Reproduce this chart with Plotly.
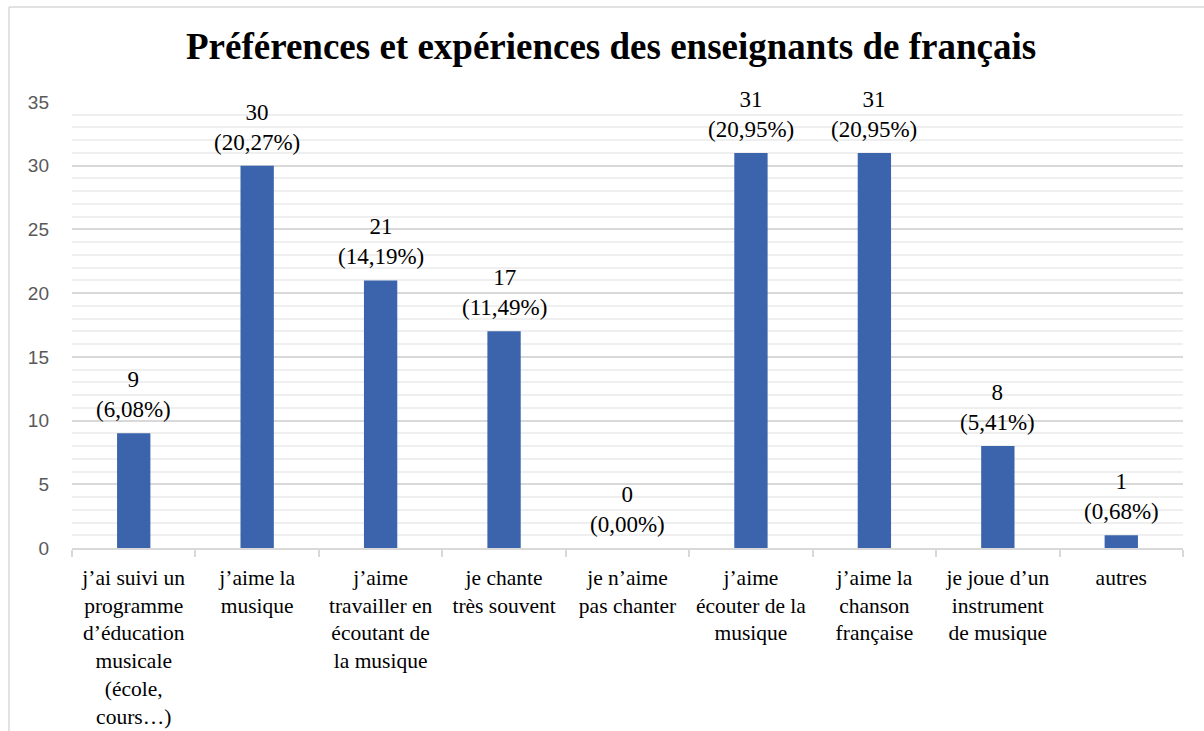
import plotly.graph_objects as go

# chart data
categories = [
    "j’ai suivi un<br>programme<br>d’éducation<br>musicale<br>(école,<br>cours…)",
    "j’aime la<br>musique",
    "j’aime<br>travailler en<br>écoutant de<br>la musique",
    "je chante<br>très souvent",
    "je n’aime<br>pas chanter",
    "j’aime<br>écouter de la<br>musique",
    "j’aime la<br>chanson<br>française",
    "je joue d’un<br>instrument<br>de musique",
    "autres",
]
counts = [9, 30, 21, 17, 0, 31, 31, 8, 1]
shares = ["6,08%", "20,27%", "14,19%", "11,49%", "0,00%", "20,95%", "20,95%", "5,41%", "0,68%"]
y_ticks = [0, 5, 10, 15, 20, 25, 30, 35]

BAR_BLUE = "#3B64AD"
SERIF = "Liberation Serif"
GRID = "#D9D9D9"

fig = go.Figure(
    go.Bar(
        x=categories,
        y=counts,
        marker={"color": BAR_BLUE},
        hovertemplate="%{y}<extra></extra>",
    )
)

# value labels above the bars
for cat, n, share in zip(categories, counts, shares):
    fig.add_annotation(
        x=cat,
        y=n,
        text=f"{n}<br>({share})",
        showarrow=False,
        yanchor="bottom",
        yshift=9,
        font={"family": SERIF, "size": 23, "color": "#000000"},
    )

fig.update_layout(
    width=1204,
    height=731,
    template="none",
    paper_bgcolor="white",
    plot_bgcolor="white",
    bargap=0.73,
    showlegend=False,
    margin={"l": 72, "r": 21, "t": 102, "b": 183},
    title={
        "text": "<b>Préférences et expériences des enseignants de français</b>",
        "x": 0.5075,
        "xref": "container",
        "xanchor": "center",
        "y": 0.937,
        "yref": "container",
        "yanchor": "middle",
        "font": {"family": SERIF, "size": 37, "color": "#000000"},
    },
    shapes=[
        # chart frame (top and left edges)
        {"type": "line", "xref": "paper", "yref": "paper",
         "x0": -0.0567, "x1": 1.03, "y0": 1.213, "y1": 1.213,
         "line": {"color": GRID, "width": 1.5}},
        {"type": "line", "xref": "paper", "yref": "paper",
         "x0": -0.0567, "x1": -0.0567, "y0": 1.213, "y1": -0.42,
         "line": {"color": GRID, "width": 1.5}},
    ],
)

fig.update_xaxes(
    automargin=False,
    showgrid=False,
    showline=True,
    linecolor=GRID,
    linewidth=1.5,
    ticks="outside",
    tickson="boundaries",
    ticklen=7,
    tickcolor=GRID,
    tickwidth=1.5,
    tickangle=0,
    ticklabelstandoff=9,
    tickfont={"family": SERIF, "size": 21.5, "color": "#000000"},
)
fig.update_yaxes(
    automargin=False,
    range=[0, 35],
    tickvals=y_ticks,
    showgrid=True,
    gridcolor=GRID,
    gridwidth=1.5,
    zeroline=False,
    showline=False,
    ticks="",
    ticklabelstandoff=22,
    tickfont={"family": "Liberation Sans", "size": 19, "color": "#595959"},
    minor={"dtick": 1, "showgrid": True, "gridcolor": "#EFEFEF", "gridwidth": 1.5},
)

fig.write_html(
    "out.html",
    config={"displayModeBar": False},
    post_script="document.body.style.margin='0';",
)
